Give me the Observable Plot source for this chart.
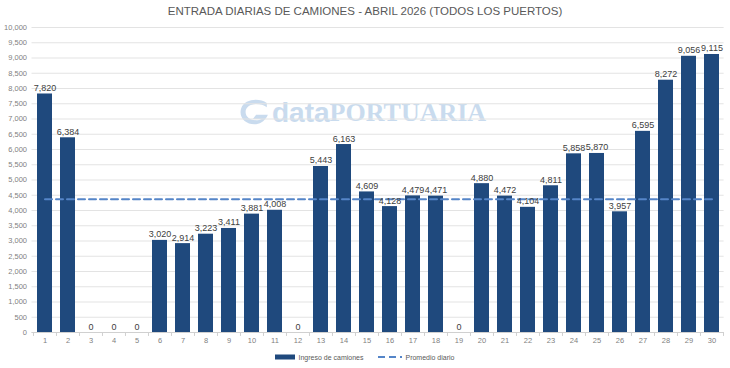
<!DOCTYPE html>
<html><head><meta charset="utf-8">
<script src="https://cdn.jsdelivr.net/npm/d3@7"></script>
<script src="https://cdn.jsdelivr.net/npm/@observablehq/plot@0.6"></script>
<style>
body{margin:0;background:#fff;font-family:"Liberation Sans",Arial,sans-serif;}
#wrap{position:relative;width:730px;height:368px;overflow:hidden;}
#title{height:22px;line-height:23px;text-align:center;font-size:11.5px;color:#595959;letter-spacing:0px;}
#chart{position:relative;z-index:1;}
#legend{position:absolute;left:0;top:351px;width:730px;height:12px;display:flex;justify-content:center;align-items:center;font-size:7px;color:#595959;z-index:1;}
#legend .item{display:flex;align-items:center;margin:0 5px;}
#legend svg{margin-right:3px;}
#wm{position:absolute;left:238px;top:95px;height:32px;display:flex;align-items:flex-end;color:#c9dbee;z-index:0;white-space:nowrap;}
#wm .d{font-family:"Liberation Sans",Arial,sans-serif;font-weight:bold;font-size:28px;line-height:28px;margin-left:2px;}
#wm .p{font-family:"Liberation Serif","Times New Roman",serif;font-weight:bold;font-size:26px;line-height:28px;}
</style></head><body>
<div id="wrap">
<div id="title">ENTRADA DIARIAS DE CAMIONES - ABRIL 2026 (TODOS LOS PUERTOS)</div>
<div id="wm"><svg width="32" height="29" viewBox="0 0 30 26"><path d="M27 4 C20 -1 6 0 3 9 C0 18 8 25 17 24 C22 23 26 20 28 15 L17 15 L14 19 L22 19 C19 21 11 21 8 16 C5 10 10 5 17 5 C21 5 24 6 27 8 Z" fill="#c9dbee"/></svg><span class="d">data</span><span class="p">PORTUARIA</span></div>
<div id="chart"></div>
<div id="legend">
  <div class="item"><svg width="20" height="6"><rect x="0" y="0.5" width="20" height="5" fill="#1f497d"/></svg>Ingreso de camiones</div>
  <div class="item" style="margin-left:10px"><svg width="24" height="6"><line x1="0" y1="3" x2="24" y2="3" stroke="#5585c8" stroke-width="2" stroke-dasharray="7,4"/></svg>Promedio diario</div>
</div>
</div>
<script>
const days = [1,2,3,4,5,6,7,8,9,10,11,12,13,14,15,16,17,18,19,20,21,22,23,24,25,26,27,28,29,30];
const camiones = [7820,6384,0,0,0,3020,2914,3223,3411,3881,4008,0,5443,6163,4609,4128,4479,4471,0,4880,4472,4104,4811,5858,5870,3957,6595,8272,9056,9115];
const promedio = 4365;
const yTicks = [0,500,1000,1500,2000,2500,3000,3500,4000,4500,5000,5500,6000,6500,7000,7500,8000,8500,9000,9500,10000];

const data = days.map((d,i)=>({day:d, value:camiones[i]}));
const fmt = d3.format(",");

const chart = Plot.plot({
  width: 730,
  height: 330,
  marginTop: 5,
  marginBottom: 20,
  marginLeft: 31.5,
  marginRight: 6.4,
  style: {fontFamily: '"Liberation Sans", Arial, sans-serif', background: "transparent"},
  x: {type: "band", domain: days, paddingInner: 0.35, paddingOuter: 0.175, label: null},
  y: {domain: [0, 10000], label: null},
  marks: [
    Plot.ruleY(yTicks, {stroke: "#e3e3e3", strokeWidth: 1}),
    Plot.axisY({ticks: yTicks, tickFormat: fmt, tickSize: 0, tickPadding: 5, fontSize: 7.5, fill: "#7f7f7f", label: null}),
    Plot.axisX({tickSize: 0, tickPadding: 5, fontSize: 7.5, fill: "#7f7f7f", label: null}),
    Plot.barY(data, {x: "day", y: "value", fill: "#1f497d"}),
    Plot.ruleY([0], {stroke: "#d0d0d0", strokeWidth: 1}),
    Plot.ruleX(days, {x: d => d, dx: -11.53, y1: 0, y2: -130, stroke: "#d0d0d0"}),
    Plot.ruleX([30], {x: d => d, dx: 11.53, y1: 0, y2: -130, stroke: "#d0d0d0"}),
    Plot.lineY(days, {x: d => d, y: () => promedio, stroke: "#5585c8", strokeWidth: 2, strokeDasharray: "7,4"}),
    Plot.text(data, {x: "day", y: "value", text: d => fmt(d.value), lineAnchor: "bottom", dy: -3, fontSize: 9, fill: "#404040"})
  ]
});
document.getElementById("chart").appendChild(chart);
</script>
</body></html>
